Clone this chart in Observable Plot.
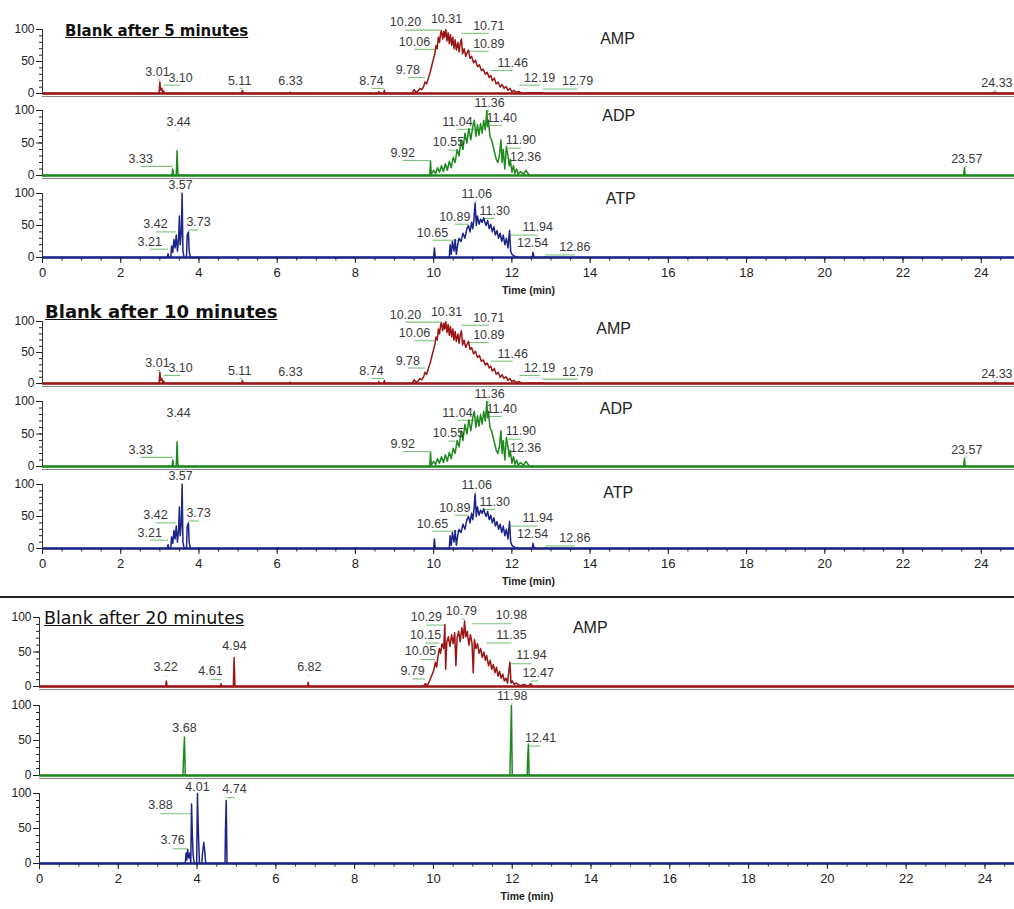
<!DOCTYPE html>
<html><head><meta charset="utf-8">
<script src="https://cdn.jsdelivr.net/npm/d3@7"></script>
<script src="https://cdn.jsdelivr.net/npm/@observablehq/plot@0.6"></script>
<style>
body{margin:0;background:#fff;font-family:"Liberation Sans",Arial,sans-serif}
#root{position:relative;width:1014px;height:909px;overflow:hidden;background:#fff}
#root svg{position:absolute;left:0;overflow:visible;background:transparent}
.title{position:absolute;font-family:"DejaVu Sans",sans-serif;text-decoration:underline;color:#111;white-space:nowrap;line-height:1}
.sep{position:absolute;left:0;width:1014px;background:#222}
</style></head>
<body><div id="root"></div>
<script>
// ---------- ticks ----------
const xMajor = [0, 2, 4, 6, 8, 10, 12, 14, 16, 18, 20, 22, 24];
const xMinor = d3.range(0, 24.9, 0.5);
const yMajor = [0, 50, 100];
const yMinor = [0, 10, 20, 30, 40, 50, 60, 70, 80, 90, 100];

// ---------- traces [time (min), relative intensity] ----------
const amp5 = [[0,0],[2.98,0],[3.0,18],[3.02,5],[3.05,8],[3.08,0],[3.1,4],[3.13,0],
 [5.09,0],[5.11,5],[5.13,0],[6.31,0],[6.33,2],[6.35,0],
 [8.58,0],[8.6,3],[8.62,0],[8.72,0],[8.74,5],[8.76,0],
 [9.45,0],[9.5,6],[9.55,2],[9.6,4],[9.65,8],[9.7,6],[9.75,12],[9.78,18],[9.82,15],[9.87,25],[9.92,35],[9.97,48],[10.0,55],[10.03,62],[10.06,75],[10.09,70],[10.12,88],[10.15,80],[10.18,95],[10.2,98],[10.23,85],[10.26,97],[10.28,88],[10.31,100],[10.34,82],[10.37,95],[10.4,78],[10.43,92],[10.46,75],[10.49,88],[10.52,70],[10.55,84],[10.58,68],[10.62,80],[10.65,65],[10.68,78],[10.71,85],[10.74,62],[10.78,70],[10.82,58],[10.86,64],[10.89,68],[10.93,55],[10.97,58],[11.02,48],[11.07,52],[11.12,42],[11.17,45],[11.22,36],[11.27,38],[11.32,30],[11.37,33],[11.42,25],[11.46,28],[11.5,20],[11.55,24],[11.6,15],[11.65,18],[11.7,10],[11.75,14],[11.8,8],[11.85,11],[11.9,5],[11.95,8],[12.0,3],[12.05,5],[12.1,2],[12.19,3],[12.25,0],[12.5,1],[12.79,1],[12.85,0],
 [24.31,0],[24.33,2],[24.35,0],[24.85,0]];
const adp5 = [[0,0],[3.31,0],[3.33,10],[3.35,0],[3.42,0],[3.44,38],[3.46,5],[3.48,0],
 [9.9,0],[9.92,22],[9.94,2],[10.0,8],[10.05,3],[10.1,12],[10.15,5],[10.2,15],[10.25,6],[10.3,18],[10.35,8],[10.4,22],[10.45,12],[10.5,28],[10.55,20],[10.6,40],[10.65,30],[10.7,55],[10.75,40],[10.8,65],[10.85,50],[10.9,72],[10.95,55],[11.0,75],[11.04,85],[11.08,60],[11.12,78],[11.16,62],[11.2,80],[11.24,65],[11.28,85],[11.32,70],[11.36,100],[11.38,75],[11.4,85],[11.44,60],[11.48,55],[11.52,45],[11.56,35],[11.6,25],[11.64,20],[11.68,30],[11.72,55],[11.75,20],[11.78,40],[11.82,10],[11.86,45],[11.9,30],[11.93,15],[11.96,25],[12.0,5],[12.04,15],[12.08,3],[12.12,10],[12.16,2],[12.22,6],[12.3,2],[12.36,8],[12.45,0],
 [23.55,0],[23.57,12],[23.59,0],[24.85,0]];
const atp5 = [[0,0],[3.19,0],[3.21,6],[3.23,0],[3.28,0],[3.3,18],[3.33,8],[3.36,28],[3.39,15],[3.42,35],[3.45,10],[3.48,30],[3.5,65],[3.52,20],[3.55,40],[3.57,100],[3.59,10],[3.62,0],[3.68,0],[3.7,35],[3.73,40],[3.75,10],[3.78,0],
 [10.0,0],[10.02,15],[10.04,0],[10.4,0],[10.42,20],[10.45,5],[10.48,25],[10.52,10],[10.55,28],[10.58,5],[10.62,22],[10.65,30],[10.7,25],[10.75,38],[10.8,30],[10.85,45],[10.89,50],[10.93,40],[10.97,55],[11.0,45],[11.03,60],[11.06,85],[11.09,50],[11.12,65],[11.16,52],[11.2,60],[11.24,55],[11.28,62],[11.3,57],[11.34,50],[11.38,58],[11.42,45],[11.46,52],[11.5,40],[11.54,48],[11.58,35],[11.62,42],[11.66,30],[11.7,38],[11.74,25],[11.78,35],[11.82,20],[11.86,30],[11.9,15],[11.94,42],[11.97,10],[12.0,5],[12.05,3],[12.1,1],[12.2,0],[12.52,0],[12.54,8],[12.57,0],[12.84,0],[12.86,1],[12.9,0],[24.85,0]];
// the 10-minute blank shows the same chromatograms
const amp10 = amp5, adp10 = adp5, atp10 = atp5;
const amp20 = [[0,0],[3.2,0],[3.22,8],[3.24,0],[4.59,0],[4.61,4],[4.63,0],[4.92,0],[4.94,42],[4.96,0],[6.8,0],[6.82,6],[6.84,0],
 [9.75,0],[9.79,4],[9.85,2],[9.9,8],[9.95,15],[10.0,22],[10.05,35],[10.08,28],[10.12,45],[10.15,55],[10.18,48],[10.22,62],[10.26,55],[10.29,90],[10.31,25],[10.34,65],[10.38,72],[10.42,58],[10.46,75],[10.5,62],[10.54,78],[10.57,30],[10.6,70],[10.64,80],[10.68,65],[10.72,85],[10.76,70],[10.79,95],[10.82,72],[10.86,80],[10.9,60],[10.94,75],[10.98,62],[11.01,20],[11.04,68],[11.08,55],[11.12,62],[11.16,48],[11.2,55],[11.24,42],[11.28,50],[11.32,38],[11.35,45],[11.4,30],[11.44,38],[11.48,25],[11.52,32],[11.56,20],[11.6,28],[11.64,15],[11.68,22],[11.72,12],[11.76,18],[11.8,8],[11.84,12],[11.88,5],[11.94,35],[11.97,5],[12.0,8],[12.05,3],[12.1,5],[12.2,1],[12.3,3],[12.4,0],[12.47,4],[12.52,0],[24.75,0]];
const adp20 = [[0,0],[3.64,0],[3.66,30],[3.68,55],[3.7,0],[11.94,0],[11.96,50],[11.98,100],[12.0,0],[12.38,0],[12.39,20],[12.41,45],[12.43,0],[24.75,0]];
const atp20 = [[0,0],[3.7,0],[3.72,15],[3.74,5],[3.76,20],[3.79,8],[3.82,15],[3.84,0],[3.86,85],[3.88,40],[3.9,12],[3.93,0],[3.99,0],[4.01,100],[4.03,50],[4.06,0],[4.12,0],[4.14,15],[4.17,30],[4.2,15],[4.22,0],[4.71,0],[4.72,45],[4.74,90],[4.76,0],[24.75,0]];

// ---------- peak labels: retention time, label x (min), label y (intensity) ----------
const ampPeaks5 = [["3.01",2.94,33],["3.10",3.53,25],["5.11",5.04,20],["6.33",6.34,19],["8.74",8.41,20],["9.78",9.34,37],["10.06",9.51,81],["10.20",9.28,111],["10.31",10.33,116],["10.71",11.41,106],["10.89",11.41,78],["11.46",12.02,48],["12.19",12.71,25],["12.79",13.68,19],["24.33",24.4,16]];
const adpPeaks5 = [["3.33",2.51,26],["3.44",3.48,82],["9.92",9.21,35],["10.55",10.38,51],["11.04",10.61,83],["11.36",11.43,111],["11.40",11.74,89],["11.90",12.23,54],["12.36",12.35,28],["23.57",23.63,26]];
const atpPeaks5 = [["3.21",2.74,25],["3.42",2.89,52],["3.57",3.53,113],["3.73",3.99,55],["10.65",9.97,39],["10.89",10.54,64],["11.06",11.10,100],["11.30",11.56,73],["11.94",12.66,47],["12.54",12.53,22],["12.86",13.61,16]];
const ampPeaks10 = ampPeaks5, adpPeaks10 = adpPeaks5, atpPeaks10 = atpPeaks5;
const ampPeaks20 = [["3.22",3.2,28],["4.61",4.34,22],["4.94",4.95,58],["6.82",6.85,28],["9.79",9.47,23],["10.05",9.67,51],["10.15",9.8,75],["10.29",9.82,101],["10.79",10.71,110],["10.98",11.98,103],["11.35",11.98,75],["11.94",12.49,45],["12.47",12.66,20]];
const adpPeaks20 = [["3.68",3.68,68],["11.98",12.0,114],["12.41",12.72,54]];
const atpPeaks20 = [["3.88",3.07,83],["4.01",4.01,109],["4.74",4.95,106],["3.76",3.38,33]];

const titles = ["Blank after 5 minutes", "Blank after 10 minutes", "Blank after 20 minutes"];
const compounds = ["AMP", "ADP", "ATP"];

// ---------- styling / layout ----------
const colors = {AMP: "#9a1515", ADP: "#1e8a1e", ATP: "#1b2488"};
const leader = "#7fc27f";
const root = document.getElementById("root");

const panels = [
  {trace: amp5, peaks: ampPeaks5, c: "AMP", name: true, nx: 14.7, ny: 86, y100: 29, y0: 93, ml: 42, xmax: 24.85},
  {trace: adp5, peaks: adpPeaks5, c: "ADP", name: true, nx: 14.73, ny: 92, y100: 110, y0: 175, ml: 42, xmax: 24.85},
  {trace: atp5, peaks: atpPeaks5, c: "ATP", name: true, nx: 14.78, ny: 91, y100: 193, y0: 257, ml: 42, xmax: 24.85, axis: true},
  {trace: amp10, peaks: ampPeaks10, c: "AMP", name: true, nx: 14.6, ny: 88, y100: 321, y0: 383, ml: 42, xmax: 24.85},
  {trace: adp10, peaks: adpPeaks10, c: "ADP", name: true, nx: 14.67, ny: 88, y100: 401, y0: 466, ml: 42, xmax: 24.85},
  {trace: atp10, peaks: atpPeaks10, c: "ATP", name: true, nx: 14.72, ny: 87, y100: 484, y0: 548, ml: 42, xmax: 24.85, axis: true},
  {trace: amp20, peaks: ampPeaks20, c: "AMP", name: true, nx: 13.98, ny: 85, y100: 617, y0: 686, ml: 39, xmax: 24.75},
  {trace: adp20, peaks: adpPeaks20, c: "ADP", name: false, y100: 705, y0: 775, ml: 39, xmax: 24.75},
  {trace: atp20, peaks: atpPeaks20, c: "ATP", name: false, y100: 793, y0: 863, ml: 39, xmax: 24.75, axis: true}
];

for (const p of panels) {
  const mt = 40, mb = p.axis ? 46 : 6;
  const h = mt + (p.y0 - p.y100) + mb;
  const labels = p.peaks.map(([text, lx, ly]) => ({text, t: +text, lx, ly}));
  const color = colors[p.c];
  const marks = [];
  if (!p.axis) marks.push(Plot.ruleY([0], {stroke: "#8a8a8a", strokeWidth: 1, dy: 3}));
  marks.push(
    Plot.link(labels, {x1: "lx", x2: "t", y1: d => d.ly - 12, y2: d => d.ly - 12, stroke: leader, strokeWidth: 1.1}),
    Plot.line(p.trace, {x: d => d[0], y: d => d[1], stroke: color, strokeWidth: 1.5}),
    Plot.ruleY([0], {stroke: color, strokeWidth: 2.4}),
    Plot.ruleX([0], {y1: 0, y2: 100, stroke: "#333"}),
    Plot.axisY({ticks: yMajor, tickSize: 6, tickPadding: 2, fontSize: 12, label: null}),
    Plot.axisY({ticks: yMinor, tickSize: 3, text: null, label: null}),
    Plot.text(labels, {x: "lx", y: "ly", text: "text", fontSize: 12.5, fill: "#3a3a3a"})
  );
  if (p.name) marks.push(Plot.text([p.c], {x: () => p.nx, y: () => p.ny, fontSize: 16, fill: "#222"}));
  if (p.axis) marks.push(
    Plot.axisX({ticks: xMinor, tickSize: 3.5, text: null, label: null}),
    Plot.axisX({ticks: xMajor, tickSize: 6, tickPadding: 4, fontSize: 13, label: null}),
    Plot.text(["Time (min)"], {frameAnchor: "bottom", dy: 36, fontSize: 10.5, fontWeight: "bold", fill: "#222"})
  );
  const chart = Plot.plot({
    width: 1014, height: h,
    marginTop: mt, marginBottom: mb, marginLeft: p.ml, marginRight: 0,
    x: {domain: [0, p.xmax], axis: null},
    y: {domain: [0, 100], axis: null},
    style: {fontFamily: "'Liberation Sans', Arial, sans-serif", background: "transparent", overflow: "visible", color: "#222"},
    marks
  });
  chart.style.top = (p.y100 - mt) + "px";
  root.appendChild(chart);
}

// separator above the 20-minute block
const sep = document.createElement("div");
sep.className = "sep"; sep.style.top = "596px"; sep.style.height = "2px";
root.appendChild(sep);

// group titles
const titleStyle = [
  {left: 65, top: 24, size: 15, weight: "bold"},
  {left: 45, top: 303, size: 18, weight: "bold"},
  {left: 44, top: 610, size: 17.5, weight: "normal"}
];
titles.forEach((t, i) => {
  const d = document.createElement("div");
  d.className = "title";
  d.textContent = t;
  Object.assign(d.style, {left: titleStyle[i].left + "px", top: titleStyle[i].top + "px", fontSize: titleStyle[i].size + "px", fontWeight: titleStyle[i].weight});
  root.appendChild(d);
});
</script></body></html>
